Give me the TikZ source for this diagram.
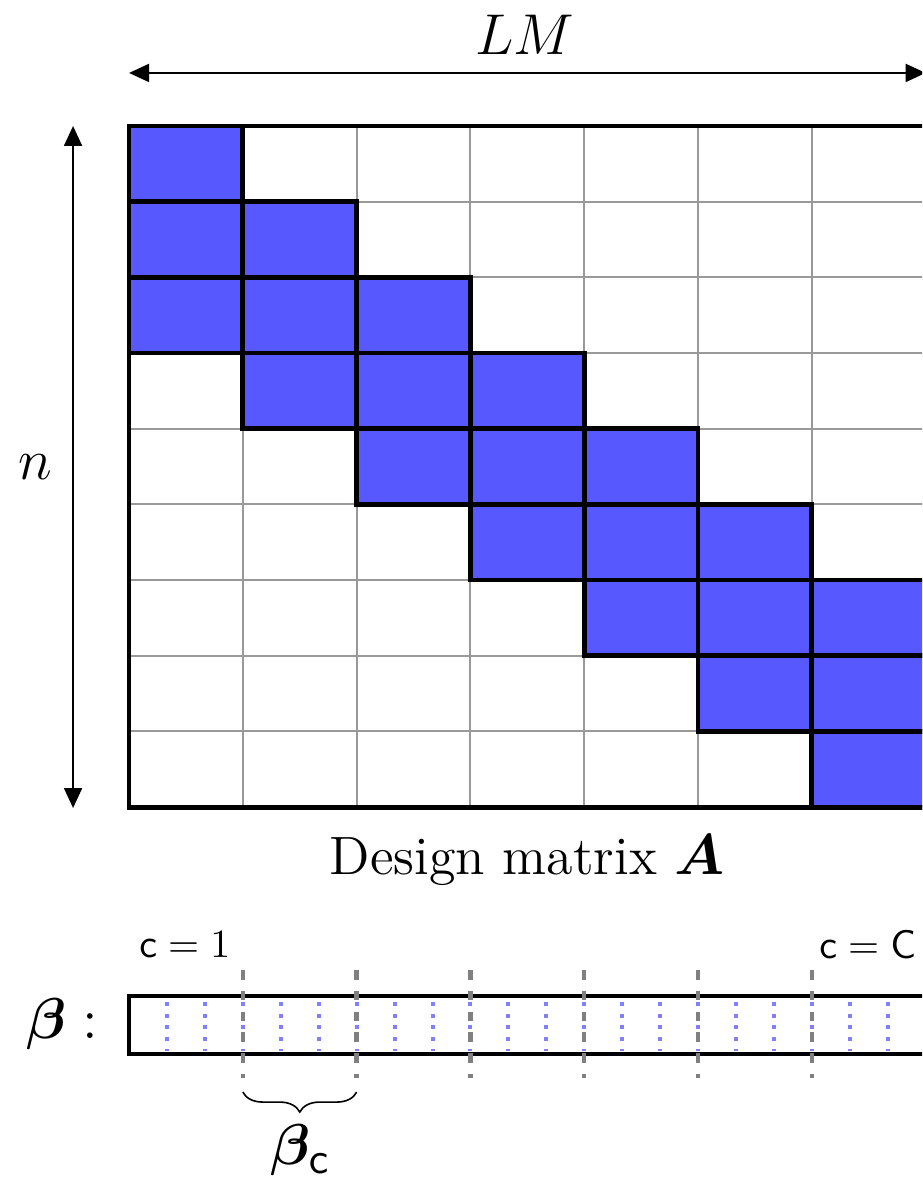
\documentclass[tikz,border=0pt]{standalone}
\usepackage{amsmath,bm}
\usetikzlibrary{arrows.meta,decorations.pathreplacing}
\definecolor{Fill}{RGB}{88,88,255}

\begin{document}
\begin{tikzpicture}[
 cell/.style={draw=black,line width=1.2pt,fill=Fill},
 gl/.style={gray!80,line width=0.5pt},
 a/.style={{Triangle[length=5pt,width=4.5pt]}-{Triangle[length=5pt,width=4.5pt]},line width=0.5pt},
 sep/.style={gray,line width=1.1pt,dash pattern=on 2.4pt off 2.8pt},
 sub/.style={blue!50,line width=1pt,dash pattern=on 1pt off 1.9pt},
 big/.style={font=\fontsize{13.5}{16}\selectfont}]
\useasboundingbox (-1.134,-9.288) rectangle (6.968,1.107);
\clip (-1.134,-9.288) rectangle (6.968,1.107);
% design matrix (7 x 9 cells)
\begin{scope}[y=-0.665cm]
\foreach \i in {1,...,6} \draw[gl] (\i,0) -- (\i,9);
\foreach \j in {1,...,8} \draw[gl] (0,\j) -- (7,\j);
\foreach \r in {0,...,8}{
  \foreach \c in {0,1,2}{
    \pgfmathtruncatemacro\k{\r-\c}
    \ifnum\k<0\relax\else\ifnum\k>6\relax\else
      \draw[cell] (\k,\r) rectangle ++(1,1);
    \fi\fi
  }
}
\draw[line width=1.2pt] (0,0) rectangle (7,9);
\end{scope}
% dimensions
\coordinate (lmL) at (0,0.466);
\coordinate (lmR) at (7,0.466);
\coordinate (nT) at (-0.492,0);
\coordinate (nB) at (-0.492,-5.993);
\draw[a] (lmL) -- (lmR);
\draw[a] (nT) -- (nB);
\node[big] (lm) at (3.48,0.80) {$LM$};
\node[big] (nlab) at (-0.826,-2.997) {$n$};
\node[big] (title) at (3.5,-6.45) {Design matrix $\bm{A}$};
% coefficient vector
\foreach \i in {1,...,20} \draw[sub] (\i/3,-7.70) -- (\i/3,-8.13);
\draw[line width=1.2pt] (0,-7.645) rectangle (7,-8.155);
\foreach \i in {1,...,6} \draw[sep] (\i,-7.417) -- (\i,-8.366);
\node (c1) at (0.49,-7.19) {$\mathsf{c}=1$};
\node (cC) at (6.49,-7.19) {$\mathsf{c}=\mathsf{C}$};
\node[font=\fontsize{15}{17}\selectfont] (betalab) at (-0.589,-7.89) {$\bm{\beta}:$};
\coordinate (brL) at (1,-8.489);
\coordinate (brR) at (2,-8.489);
\draw[decorate,decoration={brace,mirror,amplitude=5pt},line width=0.4pt] (brL) -- (brR);
\node[font=\fontsize{15}{17}\selectfont] (betac) at (1.508,-9.0) {$\bm{\beta}_{\mathsf{c}}$};
\end{tikzpicture}
\end{document}
